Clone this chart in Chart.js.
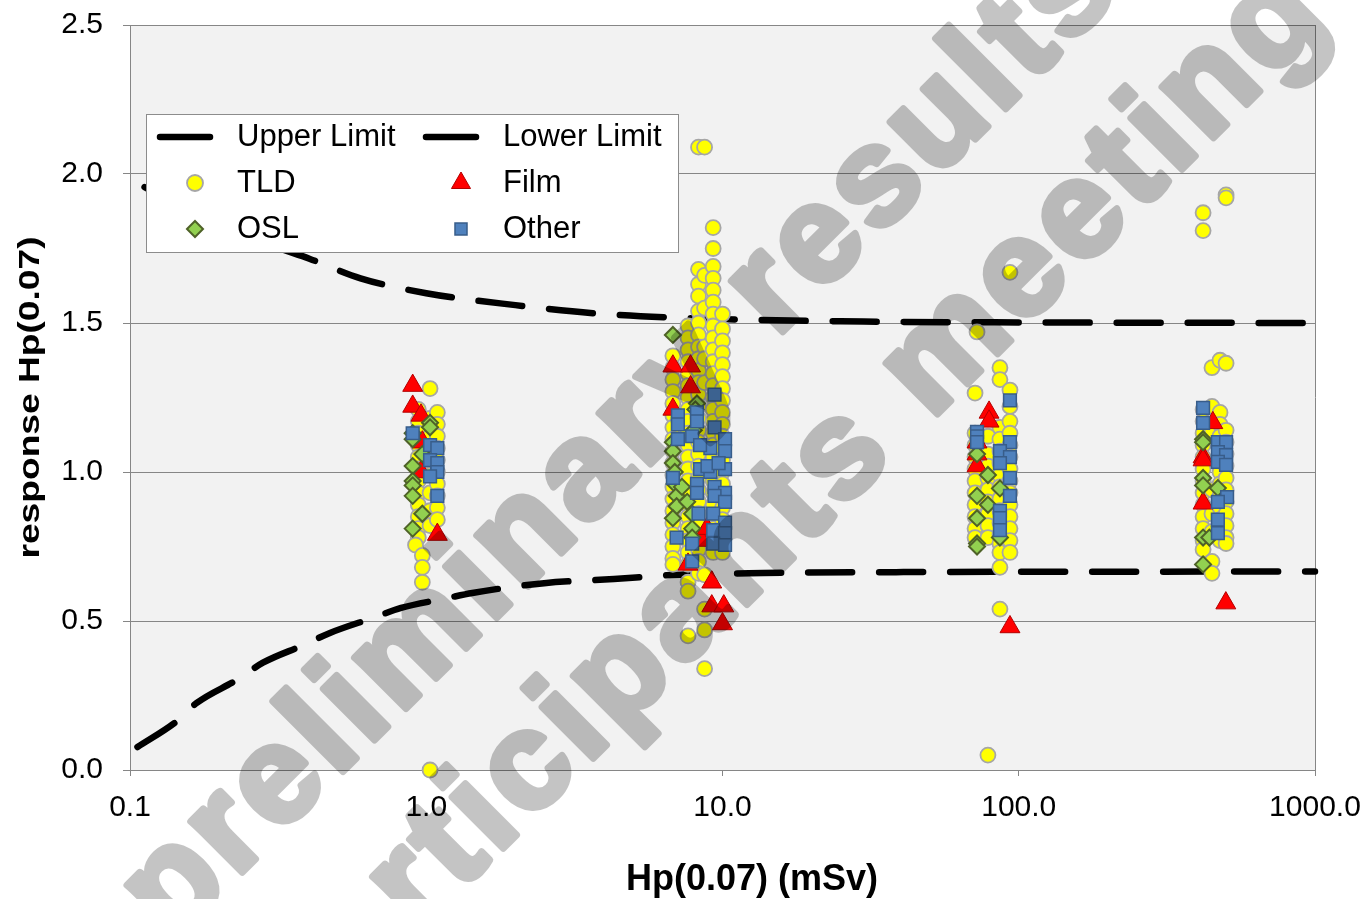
<!DOCTYPE html>
<html><head><meta charset="utf-8">
<script src="https://cdn.jsdelivr.net/npm/chart.js@4.4.0/dist/chart.umd.min.js"></script>
<style>html,body{margin:0;padding:0;background:#fff;}canvas{display:block;}</style>
</head><body>
<canvas id="c" width="1367" height="899"></canvas>
<script>
// ---------- data ----------
const xTickValues = [0.1, 1, 10, 100, 1000];
const xTickLabels = ['0.1', '1.0', '10.0', '100.0', '1000.0'];
const yTickValues = [0, 0.5, 1, 1.5, 2, 2.5];
const yTickLabels = ['0.0', '0.5', '1.0', '1.5', '2.0', '2.5'];
const seriesNames = ['Upper Limit', 'Lower Limit', 'TLD', 'Film', 'OSL', 'Other'];
const xTitle = 'Hp(0.07) (mSv)';
const yTitle = 'response Hp(0.07)';
const watermarkLines = ['preliminary results', 'participants meeting'];

const upperLimit = [[0.112,1.956],[0.15,1.89],[0.2,1.83],[0.3,1.76],[0.405,1.715],[0.6,1.65],[1.0,1.60],[2.0,1.56],[4.0,1.53],[10,1.513],[30,1.505],[100,1.502],[1000,1.50]];
const lowerLimit = [[0.106,0.077],[0.144,0.164],[0.168,0.225],[0.232,0.305],[0.281,0.36],[0.387,0.42],[0.473,0.46],[0.672,0.513],[0.822,0.544],[1.18,0.577],[1.43,0.594],[2.5,0.627],[4.3,0.641],[6.7,0.654],[13.7,0.661],[38.5,0.664],[100,0.665],[1000,0.666]];

const tld = [
 [1.03,1.28],
 [0.94,1.21],[0.94,1.17],[0.94,1.13],[0.94,1.09],[0.94,1.05],[0.94,1.01],[0.94,0.97],[0.94,0.93],[0.94,0.89],[0.94,0.85],[0.94,0.81],[0.94,0.78],[0.92,0.755],[0.97,0.72],[0.97,0.68],[0.97,0.63],
 [1.03,1.18],[1.03,1.12],[1.03,1.06],[1.03,0.99],[1.03,0.93],[1.03,0.87],[1.03,0.82],
 [1.09,1.20],[1.09,1.16],[1.09,1.12],[1.09,1.08],[1.09,1.04],[1.09,1.00],[1.09,0.96],[1.09,0.92],[1.09,0.88],[1.09,0.84],
 [1.03,0.00],
 [6.8,1.39],[6.8,1.35],[6.8,1.31],[6.8,1.27],[6.8,1.23],[6.8,1.19],[6.8,1.15],[6.8,1.11],[6.8,1.07],[6.8,1.03],[6.8,0.99],[6.8,0.95],[6.8,0.91],[6.8,0.87],[6.8,0.83],[6.8,0.79],[6.8,0.75],[6.8,0.71],[6.8,0.69],
 [7.65,1.49],[7.65,1.45],[7.65,1.41],[7.65,1.37],[7.65,1.33],[7.65,1.29],[7.65,1.25],[7.65,1.21],[7.65,1.17],[7.65,1.13],[7.65,1.09],[7.65,1.05],[7.65,1.01],[7.65,0.97],[7.65,0.93],[7.65,0.89],[7.65,0.85],[7.65,0.81],[7.65,0.77],[7.65,0.73],[7.65,0.69],[7.65,0.63],[7.65,0.60],[7.65,0.45],
 [8.3,2.09],[8.3,1.68],[8.3,1.63],[8.3,1.59],[8.3,1.54],[8.3,1.50],[8.3,1.46],[8.3,1.42],[8.3,1.38],[8.3,1.34],[8.3,1.30],[8.3,1.26],[8.3,1.22],[8.3,1.18],[8.3,1.14],[8.3,1.10],[8.3,1.06],[8.3,1.02],[8.3,0.98],[8.3,0.94],[8.3,0.90],[8.3,0.86],[8.3,0.82],[8.3,0.78],[8.3,0.74],[8.3,0.70],[8.3,0.66],
 [8.7,2.09],[8.7,1.66],[8.7,1.55],[8.7,1.42],[8.7,1.38],[8.7,1.30],[8.7,0.655],[8.7,0.54],[8.7,0.47],[8.7,0.34],
 [9.3,1.82],[9.3,1.75],[9.3,1.69],[9.3,1.65],[9.3,1.61],[9.3,1.57],[9.3,1.53],[9.3,1.49],[9.3,1.45],[9.3,1.41],[9.3,1.37],[9.3,1.33],[9.3,1.29],[9.3,1.25],[9.3,1.21],[9.3,1.17],[9.3,1.13],[9.3,1.09],[9.3,1.05],[9.3,1.01],[9.3,0.97],[9.3,0.93],[9.3,0.89],[9.3,0.85],[9.3,0.81],[9.3,0.77],[9.3,0.73],
 [10.0,1.53],[10.0,1.48],[10.0,1.44],[10.0,1.40],[10.0,1.36],[10.0,1.32],[10.0,1.28],[10.0,1.24],[10.0,1.20],[10.0,1.16],[10.0,1.12],[10.0,1.08],[10.0,1.04],[10.0,1.00],[10.0,0.96],[10.0,0.92],[10.0,0.88],[10.0,0.84],[10.0,0.80],[10.0,0.76],[10.0,0.73],
 [71.2,1.265],[72.3,1.47],[71.2,1.13],[71.2,1.09],[71.2,1.05],[71.2,1.01],[71.2,0.97],[71.2,0.93],[71.2,0.89],[71.2,0.85],[71.2,0.81],[71.2,0.78],
 [78.7,1.12],[78.7,1.06],[78.7,1.02],[78.7,0.98],[78.7,0.94],[78.7,0.90],[78.7,0.86],[78.7,0.82],[78.7,0.78],[78.7,0.05],
 [86.4,1.35],[86.4,1.31],[86.4,1.15],[86.4,1.11],[86.4,1.07],[86.4,1.03],[86.4,0.99],[86.4,0.95],[86.4,0.91],[86.4,0.87],[86.4,0.83],[86.4,0.79],[86.4,0.76],[86.4,0.73],[86.4,0.68],[86.4,0.54],
 [93.4,1.67],[93.4,1.275],[93.4,1.22],[93.4,1.17],[93.4,1.13],[93.4,1.09],[93.4,1.05],[93.4,1.01],[93.4,0.97],[93.4,0.93],[93.4,0.89],[93.4,0.85],[93.4,0.81],[93.4,0.77],[93.4,0.73],
 [419,1.87],[419,1.81],[419,1.21],[419,1.17],[419,1.13],[419,1.09],[419,1.05],[419,1.01],[419,0.97],[419,0.93],[419,0.89],[419,0.85],[419,0.81],[419,0.77],[419,0.74],
 [449,1.35],[449,1.22],[449,1.14],[449,0.94],[449,0.86],[449,0.80],[449,0.70],[449,0.66],
 [478,1.375],[478,1.20],[478,1.16],[478,1.12],[478,1.08],[478,1.04],[478,1.00],[478,0.96],[478,0.92],[478,0.88],[478,0.84],[478,0.80],[478,0.77],
 [501,1.93],[501,1.92],[501,1.365],[501,1.14],[501,1.10],[501,1.06],[501,1.02],[501,0.98],[501,0.94],[501,0.90],[501,0.86],[501,0.82],[501,0.78],[501,0.76]
];
const film = [
 [0.90,1.29],[0.90,1.22],[0.96,1.19],[0.97,1.10],[0.96,1.00],[1.09,0.79],
 [6.8,1.355],[7.8,1.355],[7.8,1.285],[6.8,1.21],[7.65,0.69],[8.5,0.77],[8.86,0.81],[9.2,0.63],[9.2,0.55],[10.1,0.55],[10.0,0.49],
 [79.4,1.20],[79.4,1.17],[72.3,1.10],[72.3,1.06],[72.3,1.02],[93.4,0.48],
 [452,1.165],[419,1.05],[419,1.04],[419,0.895],[500,0.56]
];
const osl = [
 [1.03,1.165],[1.03,1.15],[0.90,1.13],[0.90,1.11],[0.97,1.06],[0.90,1.02],[0.90,0.97],[0.90,0.955],[0.90,0.92],[0.97,0.86],[0.90,0.81],
 [6.8,1.46],[8.2,1.23],[8.1,1.21],[8.0,1.14],[6.8,1.10],[6.8,1.07],[6.8,1.03],[6.9,1.00],[6.9,0.96],[7.0,0.92],[7.0,0.885],[6.8,0.845],[7.6,0.90],[7.9,0.86],[7.9,0.81],[7.9,0.78],[7.3,0.95],
 [72.3,1.06],[78.7,0.99],[86.4,0.945],[72.3,0.92],[78.7,0.89],[72.3,0.845],[86.4,0.78],[72.3,0.76],[72.3,0.75],
 [419,1.11],[419,1.10],[419,0.98],[419,0.955],[470,0.946],[419,0.78],[440,0.78],[419,0.69]
];
const other = [
 [0.90,1.13],[1.03,1.09],[1.09,1.08],[1.03,1.04],[1.09,1.03],[1.09,1.00],[1.03,0.985],[1.09,0.92],
 [9.4,1.26],[7.07,1.19],[8.2,1.20],[7.07,1.16],[8.2,1.17],[9.4,1.15],[7.07,1.11],[10.2,1.11],[7.9,1.12],[9.1,1.08],[8.4,1.09],[10.2,1.07],[10.2,1.01],[6.8,0.98],[8.4,1.01],[9.1,1.00],[8.9,1.02],[9.7,1.03],[8.2,0.96],[9.4,0.95],[10.2,0.93],[8.2,0.93],[9.4,0.92],[10.2,0.90],[8.3,0.86],[9.3,0.86],[10.2,0.83],[9.3,0.805],[7.0,0.78],[10.2,0.795],[7.9,0.76],[9.3,0.76],[10.2,0.755],[7.9,0.70],
 [93.4,1.24],[72.3,1.135],[72.3,1.12],[72.3,1.10],[93.4,1.10],[86.4,1.07],[93.4,1.05],[86.4,1.03],[93.4,0.98],[93.4,0.92],[86.4,0.87],[86.4,0.845],[86.4,0.805],
 [419,1.215],[419,1.165],[470,1.10],[501,1.10],[470,1.067],[501,1.057],[470,1.034],[501,1.024],[505,0.916],[470,0.90],[470,0.84],[470,0.795]
];

// ---------- chart ----------
const FONT = "'Liberation Sans', Arial, sans-serif";
Chart.defaults.font.family = FONT;
const toXY = arr => arr.map(p => ({x: p[0], y: p[1]}));

const lineStyle = {showLine: true, borderColor: '#000', borderWidth: 6.5, borderDash: [44, 27], borderCapStyle: 'round',
  pointRadius: 0, pointHoverRadius: 0, cubicInterpolationMode: 'monotone', fill: false, clip: false};

const datasets = [
  Object.assign({label: seriesNames[0], data: toXY(upperLimit), order: 6}, lineStyle),
  Object.assign({label: seriesNames[1], data: toXY(lowerLimit), order: 5}, lineStyle),
  {label: seriesNames[2], data: toXY(tld), order: 4, pointStyle: 'circle', pointRadius: 7.5, backgroundColor: '#ffff00', borderColor: '#a6a6a6', borderWidth: 1.8, clip: false},
  {label: seriesNames[3], data: toXY(film), order: 3, pointStyle: 'triangle', pointRadius: 11.5, backgroundColor: '#ff0000', borderColor: '#b30000', borderWidth: 1, clip: false},
  {label: seriesNames[4], data: toXY(osl), order: 2, pointStyle: 'rectRot', pointRadius: 8, backgroundColor: '#92d050', borderColor: '#4f6228', borderWidth: 2, clip: false},
  {label: seriesNames[5], data: toXY(other), order: 1, pointStyle: 'rect', pointRadius: 9, backgroundColor: '#4f81bd', borderColor: '#385d8a', borderWidth: 1.5, clip: false}
];

const bgPlugin = {
  id: 'plotBg',
  beforeDraw(chart) {
    const {ctx, chartArea: a} = chart;
    ctx.save();
    ctx.fillStyle = '#f2f2f2';
    ctx.fillRect(a.left, a.top, a.right - a.left, a.bottom - a.top);
    ctx.restore();
  },
  beforeDatasetsDraw(chart) {
    const {ctx, chartArea: a} = chart;
    ctx.save();
    ctx.strokeStyle = '#868686'; ctx.lineWidth = 1;
    ctx.beginPath(); ctx.moveTo(Math.round(a.right) + 0.5, a.top); ctx.lineTo(Math.round(a.right) + 0.5, a.bottom); ctx.stroke();
    ctx.restore();
  }
};

const overlayPlugin = {
  id: 'overlay',
  afterDraw(chart) {
    const ctx = chart.ctx;
    const a = chart.chartArea;
    ctx.save();
    // legend box
    ctx.fillStyle = '#ffffff';
    ctx.fillRect(146.5, 114.5, 532, 138);
    ctx.strokeStyle = '#8c8c8c'; ctx.lineWidth = 1;
    ctx.strokeRect(146.5, 114.5, 532, 138);
    const rowY = [137, 183, 229];
    const lineCx = [185, 451];
    const markCx = [195, 461];
    const textX = [237, 503];
    ctx.font = '31px ' + FONT;
    ctx.textBaseline = 'middle'; ctx.textAlign = 'left';
    chart.data.datasets.forEach((ds, i) => {
      const col = i % 2, row = Math.floor(i / 2);
      const y = rowY[row];
      if (ds.showLine) {
        ctx.save();
        ctx.strokeStyle = ds.borderColor; ctx.lineWidth = 6.5; ctx.lineCap = 'round';
        ctx.beginPath(); ctx.moveTo(lineCx[col] - 25, y); ctx.lineTo(lineCx[col] + 25, y); ctx.stroke();
        ctx.restore();
      } else {
        ctx.save();
        ctx.fillStyle = ds.backgroundColor; ctx.strokeStyle = ds.borderColor; ctx.lineWidth = ds.borderWidth;
        const r = ds.pointStyle === 'triangle' ? 11 : (ds.pointStyle === 'rect' ? 8.5 : 8);
        Chart.helpers.drawPoint(ctx, {pointStyle: ds.pointStyle, radius: r, rotation: 0, borderWidth: ds.borderWidth}, markCx[col], y);
        ctx.restore();
      }
      ctx.fillStyle = '#000';
      ctx.fillText(ds.label, textX[col], y);
    });
    // axis titles
    ctx.fillStyle = '#000';
    ctx.font = 'bold 36px ' + FONT;
    ctx.textAlign = 'center'; ctx.textBaseline = 'alphabetic';
    ctx.fillText(xTitle, 752, 890);
    ctx.save();
    ctx.font = 'bold 30px ' + FONT;
    ctx.translate(31, (a.top + a.bottom) / 2);
    ctx.rotate(-Math.PI / 2);
    const w = ctx.measureText(yTitle).width;
    ctx.scale(322 / w, 1);
    ctx.textBaseline = 'middle';
    ctx.fillText(yTitle, 0, 0);
    ctx.restore();
    ctx.restore();

    // watermark
    const wm = document.createElement('canvas');
    wm.width = chart.width; wm.height = chart.height;
    const g = wm.getContext('2d');
    g.font = 'bold 137px ' + FONT;
    try { g.letterSpacing = '6.5px'; } catch (e) {}
    g.textAlign = 'center'; g.textBaseline = 'middle';
    g.fillStyle = '#000'; g.strokeStyle = '#000'; g.lineWidth = 7; g.lineJoin = 'round';
    const centers = [[622, 439], [788, 510]];
    watermarkLines.forEach((t, i) => {
      g.save();
      g.translate(centers[i][0], centers[i][1]);
      g.rotate(-Math.PI / 4);
      g.fillText(t, 0, 0);
      g.strokeText(t, 0, 0);
      g.restore();
    });
    ctx.save();
    ctx.globalAlpha = 0.23;
    ctx.drawImage(wm, 0, 0);
    ctx.restore();
  }
};

new Chart(document.getElementById('c'), {
  type: 'scatter',
  data: {datasets},
  options: {
    responsive: false,
    devicePixelRatio: 1,
    animation: false,
    events: [],
    layout: {padding: {top: 25, right: 52, left: 0, bottom: 0}},
    plugins: {legend: {display: false}, tooltip: {enabled: false}, title: {display: false}},
    scales: {
      x: {
        type: 'logarithmic', min: 0.1, max: 1000,
        afterBuildTicks: s => { s.ticks = xTickValues.map(v => ({value: v})); },
        afterFit: s => { s.height = 129; s.paddingLeft = 0; s.paddingRight = 0; },
        ticks: {callback: (v, i) => xTickLabels[i], font: {size: 30}, color: '#000', padding: 14, maxRotation: 0, autoSkip: false},
        grid: {drawOnChartArea: false, drawTicks: true, tickLength: 6, color: '#868686', lineWidth: 1},
        border: {color: '#868686', width: 1},
        title: {display: false}
      },
      y: {
        type: 'linear', min: 0, max: 2.5,
        afterBuildTicks: s => { s.ticks = yTickValues.map(v => ({value: v})); },
        afterFit: s => { s.width = 130; s.paddingTop = 0; s.paddingBottom = 0; },
        ticks: {callback: (v, i) => yTickLabels[i], font: {size: 30}, color: '#000', padding: 20},
        grid: {color: '#868686', lineWidth: 1, tickLength: 7, drawTicks: true},
        border: {color: '#868686', width: 1},
        title: {display: false}
      }
    }
  },
  plugins: [bgPlugin, overlayPlugin]
});
</script>
</body></html>
